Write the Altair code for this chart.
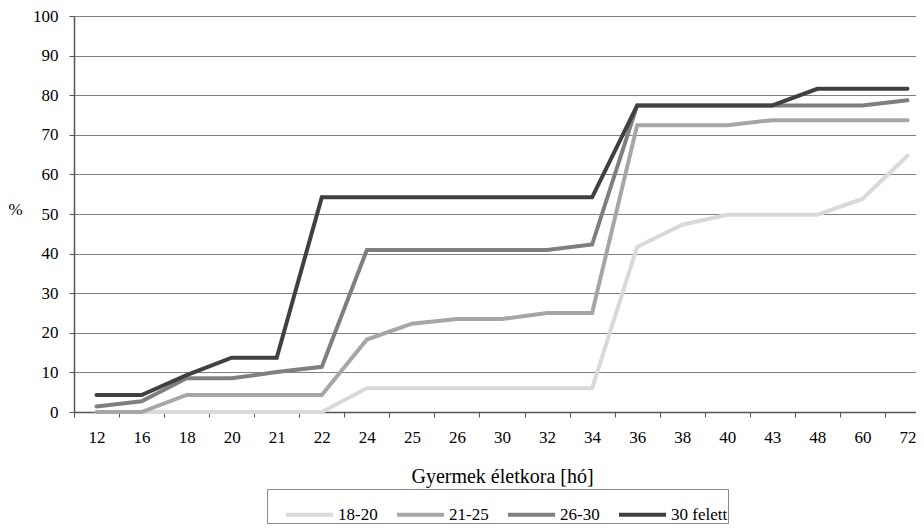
import altair as alt
import pandas as pd

months = ["12", "16", "18", "20", "21", "22", "24", "25", "26", "30",
          "32", "34", "36", "38", "40", "43", "48", "60", "72"]
series_names = ["18-20", "21-25", "26-30", "30 felett"]
s18_20 = [0, 0, 0, 0, 0, 0, 6.0, 6.0, 6.0, 6.0, 6.0, 6.0, 41.7, 47.3, 49.8, 49.8, 49.8, 53.8, 64.7]
s21_25 = [0, 0, 4.3, 4.3, 4.3, 4.3, 18.3, 22.3, 23.5, 23.5, 25.0, 25.0, 72.4, 72.4, 72.4, 73.7, 73.7, 73.7, 73.7]
s26_30 = [1.4, 2.7, 8.5, 8.5, 10.1, 11.4, 40.9, 40.9, 40.9, 40.9, 40.9, 42.3, 77.4, 77.4, 77.4, 77.4, 77.4, 77.4, 78.7]
s30_felett = [4.3, 4.3, 9.3, 13.7, 13.7, 54.2, 54.2, 54.2, 54.2, 54.2, 54.2, 54.2, 77.4, 77.4, 77.4, 77.4, 81.6, 81.6, 81.6]
colors = ["#d9d9d9", "#a6a6a6", "#7f7f7f", "#404040"]

rows = []
for i, (name, vals) in enumerate(zip(series_names, [s18_20, s21_25, s26_30, s30_felett])):
    for m, v in zip(months, vals):
        rows.append({"month": m, "value": v, "group": name, "gi": i})
df = pd.DataFrame(rows)

FONT = "'Liberation Serif', 'Times New Roman', 'DejaVu Serif', serif"

chart = alt.Chart(df).mark_line(strokeWidth=4, strokeCap="round").encode(
    x=alt.X("month:O", sort=months, bandPosition=0.5,
            scale=alt.Scale(type="band", paddingInner=0, paddingOuter=0, range=[0, 856]),
            axis=alt.Axis(title="Gyermek életkora [hó]", labelAngle=0, tickBand="extent",
                          grid=False, domainColor="#555555", domainWidth=1.5,
                          tickColor="#555555", tickSize=5, labelPadding=12,
                          labelFont=FONT, labelFontSize=17, labelColor="#000000",
                          titleFont=FONT, titleFontSize=20, titleFontWeight="normal",
                          titleColor="#000000", titlePadding=21, titleX=428)),
    y=alt.Y("value:Q", scale=alt.Scale(domain=[0, 100], nice=False),
            axis=alt.Axis(values=list(range(0, 101, 10)), title="%", titleAngle=0,
                          titleX=-59, titleY=193, titleAlign="center", titleBaseline="middle",
                          titleFont=FONT, titleFontSize=17, titleFontWeight="normal",
                          titleColor="#000000",
                          grid=True, gridColor="#808080", gridWidth=1,
                          domainColor="#555555", domainWidth=1.5,
                          tickColor="#555555", tickSize=5, labelPadding=11,
                          labelFont=FONT, labelFontSize=17, labelColor="#000000")),
    color=alt.Color("group:N", sort=series_names,
                    scale=alt.Scale(domain=series_names, range=colors),
                    legend=alt.Legend(title=None, orient="none", legendX=193, legendY=473,
                                      direction="horizontal", strokeColor="#888888",
                                      padding=0, symbolOffset=17, symbolType="stroke",
                                      symbolStrokeWidth=4, symbolSize=2209, labelOffset=3,
                                      labelFont=FONT, labelFontSize=17, labelColor="#000000",
                                      columnPadding=0)),
    order=alt.Order("gi:Q"),
).properties(
    width=842, height=396,
    autosize=alt.AutoSizeParams(type="none"),
    padding={"left": 66, "top": 8, "right": 0, "bottom": 125},
).configure(font=FONT).configure_view(stroke=None)

chart.save("out.html", embed_options={"renderer": "svg", "actions": False})
